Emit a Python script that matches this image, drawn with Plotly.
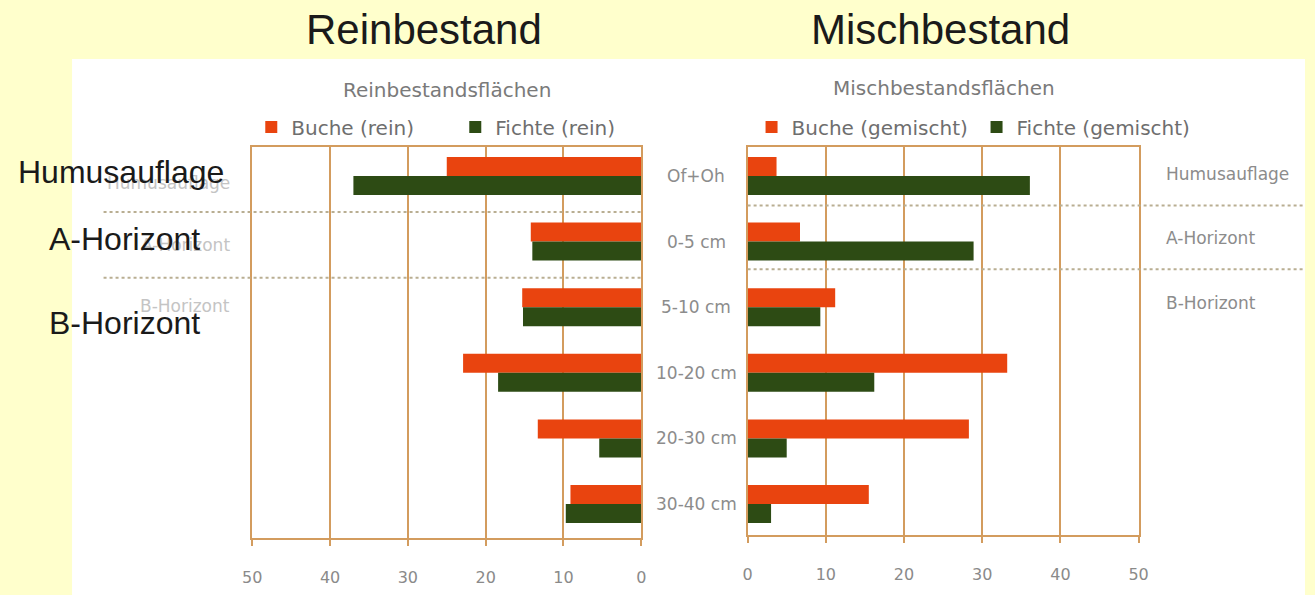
import plotly.graph_objects as go

# ---------------- data ----------------
depths = ["Of+Oh", "0-5 cm", "5-10 cm", "10-20 cm", "20-30 cm", "30-40 cm"]
buche_rein = [25, 14.2, 15.3, 22.9, 13.3, 9.1]
fichte_rein = [37, 14.0, 15.2, 18.4, 5.4, 9.7]
buche_gemischt = [3.7, 6.7, 11.2, 33.2, 28.3, 15.5]
fichte_gemischt = [36.1, 28.9, 9.3, 16.2, 5.0, 3.0]
x_ticks = [0, 10, 20, 30, 40, 50]
horizons = ["Humusauflage", "A-Horizont", "B-Horizont"]

W, H = 1315, 595
def px(x):
    return x / W
def py(y):
    return 1 - y / H

ORANGE = "#e9440f"
GREEN = "#2d4b14"
GRID = "#d39c5e"
DOT = "#b9ae92"
CHART_FONT = "DejaVu Sans"
SLIDE_FONT = "Liberation Sans, Arial, sans-serif"

# category mapping: center of category 0 at 176 px, 65.6 px per category
C0, STEP = 176.0, 65.6
def yrange(top, bottom):
    return [(bottom - C0) / STEP, (top - C0) / STEP]

BAR_W = 0.29

fig = go.Figure()
fig.add_trace(go.Bar(y=depths, x=buche_rein, orientation="h", name="Buche (rein)",
                     marker=dict(color=ORANGE, line=dict(width=0)), width=BAR_W, offset=-BAR_W,
                     xaxis="x", yaxis="y", legend="legend"))
fig.add_trace(go.Bar(y=depths, x=fichte_rein, orientation="h", name="Fichte (rein)",
                     marker=dict(color=GREEN, line=dict(width=0)), width=BAR_W, offset=0,
                     xaxis="x", yaxis="y", legend="legend"))
fig.add_trace(go.Bar(y=depths, x=buche_gemischt, orientation="h", name="Buche (gemischt)",
                     marker=dict(color=ORANGE, line=dict(width=0)), width=BAR_W, offset=-BAR_W,
                     xaxis="x2", yaxis="y2", legend="legend2"))
fig.add_trace(go.Bar(y=depths, x=fichte_gemischt, orientation="h", name="Fichte (gemischt)",
                     marker=dict(color=GREEN, line=dict(width=0)), width=BAR_W, offset=0,
                     xaxis="x2", yaxis="y2", legend="legend2"))

axis_common = dict(
    tickvals=x_ticks, ticktext=[str(v) for v in x_ticks],
    showgrid=True, gridcolor=GRID, gridwidth=1.5,
    zeroline=False, showline=True, linecolor=GRID, linewidth=1.5, mirror=True,
    ticks="outside", ticklen=6, tickcolor=GRID, tickwidth=1.5,
    tickfont=dict(family=CHART_FONT, size=16, color="#8a8a8a"),
    ticklabelstandoff=18, fixedrange=True,
)
y_common = dict(type="category", categoryarray=depths, showticklabels=False,
                showgrid=False, zeroline=False, showline=True, linecolor=GRID,
                linewidth=1.5, mirror=True, ticks="", fixedrange=True)

fig.update_layout(
    width=W, height=H,
    margin=dict(l=0, r=0, t=0, b=0),
    paper_bgcolor="#FFFFCC",
    plot_bgcolor="white",
    showlegend=True,
    hovermode=False,
    xaxis=dict(domain=[px(246), px(641)], range=[50, 0], anchor="y", **axis_common),
    yaxis=dict(domain=[py(538), py(147)], range=yrange(147, 538), anchor="x", **y_common),
    xaxis2=dict(domain=[px(749), px(1146)], range=[0, 50], anchor="y2", **axis_common),
    yaxis2=dict(domain=[py(535), py(147)], range=yrange(147, 535), anchor="x2", **y_common),
    legend=dict(x=px(245), xanchor="left", y=py(127), yanchor="middle", orientation="h",
                font=dict(family=CHART_FONT, size=20, color="#6e6e6e"),
                bgcolor="rgba(0,0,0,0)", entrywidth=159, entrywidthmode="pixels",
                itemwidth=30, traceorder="normal", itemclick=False, itemdoubleclick=False),
    legend2=dict(x=px(753), xanchor="left", y=py(127), yanchor="middle", orientation="h",
                 font=dict(family=CHART_FONT, size=20, color="#6e6e6e"),
                 bgcolor="rgba(0,0,0,0)", entrywidth=180, entrywidthmode="pixels",
                 itemwidth=30, traceorder="normal", itemclick=False, itemdoubleclick=False),
)

shapes = []
# white scanned chart area on the yellow slide
shapes.append(dict(type="rect", xref="paper", yref="paper", x0=px(63), x1=1, y0=0, y1=py(59),
                   fillcolor="white", line=dict(width=0), layer="below"))
# dotted horizon separators
for yv in [0.55, 1.55]:
    shapes.append(dict(type="line", xref="paper", yref="y", x0=px(95), x1=px(641), y0=yv, y1=yv,
                       line=dict(color=DOT, width=2, dash="dot"), layer="above"))
for yv in [0.45, 1.42]:
    shapes.append(dict(type="line", xref="paper", yref="y2", x0=px(749), x1=px(1313), y0=yv, y1=yv,
                       line=dict(color=DOT, width=2, dash="dot"), layer="above"))
fig.update_layout(shapes=shapes)

ann = []
# slide titles
ann.append(dict(text="Reinbestand", x=px(420), y=py(29), xref="paper", yref="paper",
                showarrow=False, font=dict(family=SLIDE_FONT, size=42, color="#1a1a1a"),
                xanchor="center", yanchor="middle"))
ann.append(dict(text="Mischbestand", x=px(945), y=py(29), xref="paper", yref="paper",
                showarrow=False, font=dict(family=SLIDE_FONT, size=42, color="#1a1a1a"),
                xanchor="center", yanchor="middle"))
# scanned chart titles
ann.append(dict(text="Reinbestandsflächen", x=px(444), y=py(90), xref="paper", yref="paper",
                showarrow=False, font=dict(family=CHART_FONT, size=20, color="#7a7a7a"),
                xanchor="center", yanchor="middle"))
ann.append(dict(text="Mischbestandsflächen", x=px(948), y=py(88), xref="paper", yref="paper",
                showarrow=False, font=dict(family=CHART_FONT, size=20, color="#7a7a7a"),
                xanchor="center", yanchor="middle"))
# depth labels between the panels
for i, d in enumerate(depths):
    ann.append(dict(text=d, x=px(697), y=i, xref="paper", yref="y", showarrow=False,
                    font=dict(family=CHART_FONT, size=17, color="#8c8c8c"),
                    xanchor="center", yanchor="middle"))
# horizon labels right of the mixed panel
for yv, h in zip([-0.03, 0.95, 1.94], horizons):
    ann.append(dict(text=h, x=px(1172), y=yv, xref="paper", yref="y2", showarrow=False,
                    font=dict(family=CHART_FONT, size=17, color="#8c8c8c"),
                    xanchor="left", yanchor="middle"))
# faint original horizon labels on the left (partly covered by the slide labels)
for yv, h in zip([0.1, 1.05, 1.98], horizons):
    ann.append(dict(text=h, x=px(225), y=yv, xref="paper", yref="y", showarrow=False,
                    font=dict(family=CHART_FONT, size=17, color="#c4c4c4"),
                    xanchor="right", yanchor="middle"))
# slide overlay labels
for (xx, yy), h in zip([(6, 172), (38, 239), (38, 323)], horizons):
    ann.append(dict(text=h, x=px(xx), y=py(yy), xref="paper", yref="paper", showarrow=False,
                    font=dict(family=SLIDE_FONT, size=32, color="#1a1a1a"),
                    xanchor="left", yanchor="middle"))
fig.update_layout(annotations=ann)

fig.write_html(
    "out.html",
    config={"displayModeBar": False},
    post_script="document.body.style.margin='0';document.body.style.padding='0';"
                "document.body.style.overflow='hidden';",
)
